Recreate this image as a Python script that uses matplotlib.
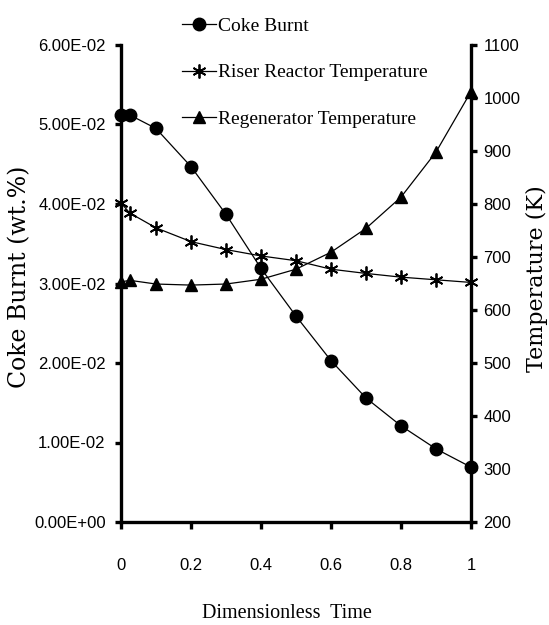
import matplotlib
matplotlib.use("Agg")
import matplotlib.pyplot as plt
from matplotlib.ticker import FixedLocator, FuncFormatter

# data
time = [0, 0.025, 0.1, 0.2, 0.3, 0.4, 0.5, 0.6, 0.7, 0.8, 0.9, 1.0]
coke_burnt = [0.0512, 0.0512, 0.0495, 0.0447, 0.0387, 0.0319,
              0.0259, 0.0203, 0.0156, 0.0121, 0.0092, 0.0069]
riser_temp = [802, 783, 755, 729, 714, 702, 693, 677, 669, 662, 657, 652]
regen_temp = [653, 656, 649, 647, 649, 658, 677, 709, 754, 813, 898, 1012]

x_ticks = [0, 0.2, 0.4, 0.6, 0.8, 1.0]
x_tick_labels = ["0", "0.2", "0.4", "0.6", "0.8", "1"]
coke_ticks = [0, 0.01, 0.02, 0.03, 0.04, 0.05, 0.06]
temp_ticks = [200, 300, 400, 500, 600, 700, 800, 900, 1000, 1100]

tick_font = ["Liberation Sans", "DejaVu Sans"]
serif_font = ["Liberation Serif", "DejaVu Serif"]

fig = plt.figure(figsize=(5.49, 6.25), dpi=100)
ax = fig.add_axes([0.2204, 0.1648, 0.6375, 0.7632])
ax2 = ax.twinx()

# coke axis drawn on top so its markers cover the right spine
ax.set_zorder(ax2.get_zorder() + 1)
ax.patch.set_visible(False)

l1, = ax.plot(time, coke_burnt, color="black", lw=0.9, marker="o",
              markersize=9, clip_on=False, zorder=3)
l2, = ax2.plot(time, riser_temp, color="black", lw=0.9, marker=(6, 2, 0),
               markersize=10, markeredgewidth=1.3, clip_on=False, zorder=3)
l3, = ax2.plot(time, regen_temp, color="black", lw=0.9, marker="^",
               markersize=9, clip_on=False, zorder=3)

ax.set_xlim(0, 1)
ax.set_ylim(0, 0.06)
ax2.set_ylim(200, 1100)

ax.xaxis.set_major_locator(FixedLocator(x_ticks))
ax.set_xticklabels(x_tick_labels)
ax.yaxis.set_major_locator(FixedLocator(coke_ticks))
ax.yaxis.set_major_formatter(FuncFormatter(lambda v, p: f"{v:.2E}"))
ax2.yaxis.set_major_locator(FixedLocator(temp_ticks))

for a in (ax, ax2):
    a.spines["top"].set_visible(False)
    for s in a.spines.values():
        s.set_linewidth(2.4)
ax.spines["right"].set_visible(False)
ax2.spines["left"].set_visible(False)
ax2.spines["bottom"].set_visible(False)

ax.tick_params(axis="x", direction="out", length=5, width=2.4, pad=21)
ax.tick_params(axis="y", direction="out", length=4, width=2.4, pad=7)
ax2.tick_params(axis="y", direction="out", length=4, width=2.4, pad=5)

for lab in ax.get_xticklabels() + ax.get_yticklabels() + ax2.get_yticklabels():
    lab.set_fontfamily(tick_font)
    lab.set_fontsize(12)

fig.text(0.0364, 0.557, "Coke Burnt (wt.%)", rotation=90, ha="center",
         va="center", family="DejaVu Serif", fontsize=17)
fig.text(0.9776, 0.554, "Temperature (K)", rotation=90, ha="center",
         va="center", family="DejaVu Serif", fontsize=16)
fig.text(0.522, 0.018, "Dimensionless  Time", ha="center", va="center",
         family=serif_font, fontsize=14.5)

fig.legend([l1, l2, l3],
           ["Coke Burnt", "Riser Reactor Temperature", "Regenerator Temperature"],
           loc="upper left", bbox_to_anchor=(0.318, 0.985), frameon=False,
           prop={"family": serif_font, "size": 14},
           handlelength=1.75, handletextpad=0.1, labelspacing=1.49,
           borderaxespad=0)

fig.savefig("out.png", dpi=100, facecolor="white")
